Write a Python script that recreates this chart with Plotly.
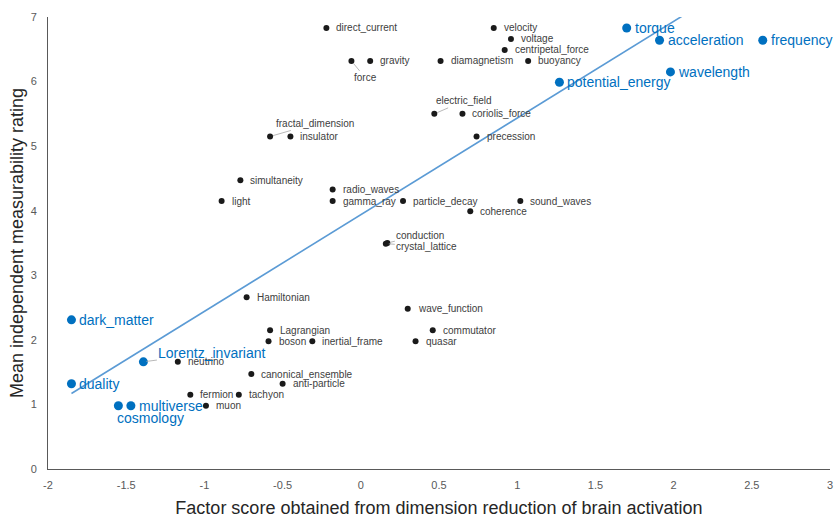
import numpy as np
import plotly.graph_objects as go

# ---- data ----
black_names = ["direct_current", "velocity", "voltage", "centripetal_force", "buoyancy",
               "diamagnetism", "gravity", "force", "electric_field", "coriolis_force",
               "precession", "fractal_dimension", "insulator", "simultaneity", "radio_waves",
               "light", "gamma_ray", "particle_decay", "sound_waves", "coherence",
               "conduction", "crystal_lattice", "Hamiltonian", "wave_function", "Lagrangian",
               "commutator", "boson", "inertial_frame", "quasar", "neutrino",
               "canonical_ensemble", "anti-particle", "fermion", "tachyon", "muon"]
black_x = [-0.22, 0.85, 0.96, 0.92, 1.07,
           0.51, 0.06, -0.06, 0.47, 0.65,
           0.74, -0.58, -0.45, -0.77, -0.18,
           -0.89, -0.18, 0.27, 1.02, 0.70,
           0.17, 0.16, -0.73, 0.30, -0.58,
           0.46, -0.59, -0.31, 0.35, -1.17,
           -0.70, -0.50, -1.09, -0.78, -0.99]
black_y = [6.83, 6.83, 6.66, 6.49, 6.32,
           6.32, 6.32, 6.32, 5.50, 5.50,
           5.15, 5.15, 5.15, 4.47, 4.33,
           4.15, 4.15, 4.15, 4.15, 3.99,
           3.50, 3.49, 2.66, 2.48, 2.15,
           2.15, 1.98, 1.98, 1.98, 1.66,
           1.47, 1.32, 1.15, 1.15, 0.98]

blue_names = ["torque", "acceleration", "frequency", "wavelength", "potential_energy",
              "dark_matter", "Lorentz_invariant", "duality", "cosmology", "multiverse"]
blue_x = [1.70, 1.91, 2.57, 1.98, 1.27, -1.85, -1.39, -1.85, -1.55, -1.47]
blue_y = [6.83, 6.64, 6.64, 6.15, 5.99, 2.31, 1.66, 1.32, 0.98, 0.98]

x_ticks = [-2, -1.5, -1, -0.5, 0, 0.5, 1, 1.5, 2, 2.5, 3]
y_ticks = [0, 1, 2, 3, 4, 5, 6, 7]

x_title = "Factor score obtained from dimension reduction of brain activation"
y_title = "Mean independent measurability rating"

# ---- styles ----
BLUE = "#0070C0"
TREND = "#5B9BD5"
LABEL_GRAY = "#404040"
FONT = "Liberation Sans, Arial, sans-serif"

# label placement overrides (pixel offsets of label centre from point: ax, ay)
leader = {
    "force": (14, 17),
    "electric_field": (30, -13),
    "fractal_dimension": (45, -13),
    "conduction": (33, -8),
    "crystal_lattice": (41, 3),
    "Lorentz_invariant": (69, -9),
}
below = {"cosmology": (32, 12)}

# ---- trend ----
all_x = np.array(black_x + blue_x)
all_y = np.array(black_y + blue_y)
slope, intercept = np.polyfit(all_x, all_y, 1)
tx = np.array([all_x.min(), all_x.max()])
ty = intercept + slope * tx

fig = go.Figure()
fig.add_trace(go.Scatter(x=tx, y=ty, mode="lines",
                         line=dict(color=TREND, width=1.6), hoverinfo="skip"))
fig.add_trace(go.Scatter(x=black_x, y=black_y, mode="markers", text=black_names,
                         marker=dict(color="#1a1a1a", size=6)))
fig.add_trace(go.Scatter(x=blue_x, y=blue_y, mode="markers", text=blue_names,
                         marker=dict(color=BLUE, size=9)))

annotations = []


def add_labels(names, xs, ys, color, size, shift):
    for n, x, y in zip(names, xs, ys):
        f = dict(family=FONT, size=size, color=color)
        if n in leader:
            ax, ay = leader[n]
            annotations.append(dict(x=x, y=y, xref="x", yref="y", text=n, showarrow=True,
                                    arrowhead=0, arrowwidth=0.8, arrowcolor="#A6A6A6",
                                    ax=ax, ay=ay, font=f, standoff=3))
        elif n in below:
            dx, dy = below[n]
            annotations.append(dict(x=x, y=y, xref="x", yref="y", text=n, showarrow=False,
                                    xshift=dx, yshift=-dy, font=f))
        else:
            annotations.append(dict(x=x, y=y, xref="x", yref="y", text=n, showarrow=False,
                                    xanchor="left", xshift=shift, font=f))


add_labels(black_names, black_x, black_y, LABEL_GRAY, 10, 8)
add_labels(blue_names, blue_x, blue_y, BLUE, 14, 6)

axis_common = dict(showgrid=False, zeroline=False, showline=True, linecolor="#595959",
                   linewidth=1, ticks="", tickfont=dict(family=FONT, size=11, color="#595959"))

fig.update_layout(
    width=838, height=518,
    margin=dict(l=48, r=8, t=17, b=49),
    paper_bgcolor="white", plot_bgcolor="white",
    showlegend=False,
    annotations=annotations,
    xaxis=dict(range=[-2, 3], tickvals=x_ticks, ticktext=[str(t) for t in x_ticks],
               title=dict(text=x_title, font=dict(family=FONT, size=18, color="#262626"),
                          standoff=12),
               automargin=False, ticklabelstandoff=6, **axis_common),
    yaxis=dict(range=[0, 7], tickvals=y_ticks,
               title=dict(text=y_title, font=dict(family=FONT, size=18, color="#262626"),
                          standoff=2),
               automargin=False, ticklabelstandoff=8, **axis_common),
)

fig.write_html("out.html", config={"displayModeBar": False},
               post_script="document.body.style.margin='0';document.body.style.overflow='hidden';")
